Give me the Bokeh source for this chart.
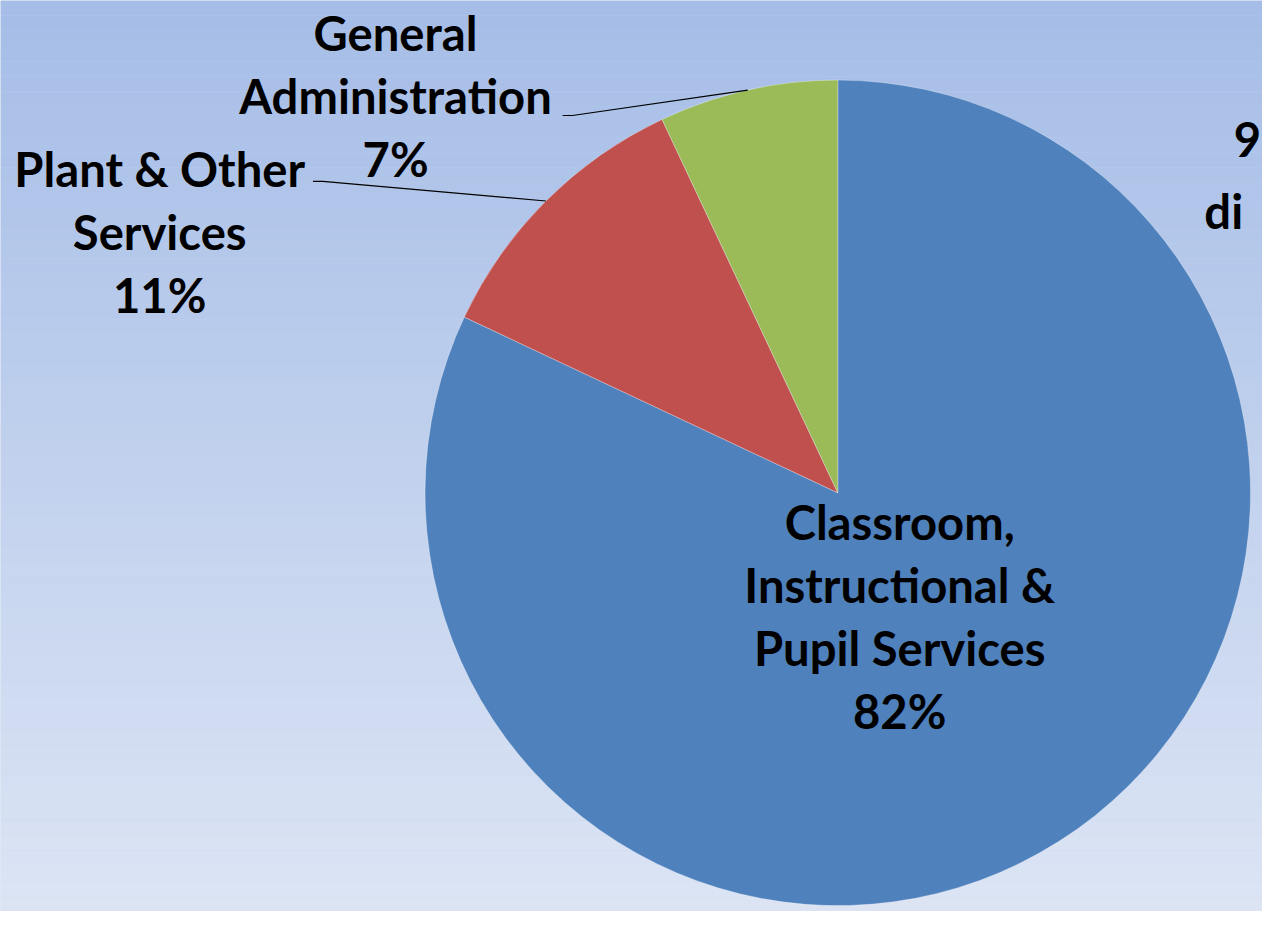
import numpy as np
from bokeh.plotting import figure
from bokeh.embed import file_html
from bokeh.resources import INLINE
from bokeh.core.properties import value

# ---- data ----
categories = ["Classroom, Instructional & Pupil Services", "Plant & Other Services", "General Administration"]
label_lines = [["Classroom,", "Instructional &", "Pupil Services"],
               ["Plant & Other", "Services"],
               ["General", "Administration"]]
shares = [82, 11, 7]
colors = ["#4F81BD", "#C0504D", "#9BBB59"]

# ---- layout (reference pixel space, y down) ----
W, H = 1278, 927
PW, PH = 1262, 911
s = PH / H
cx_px, cy_px, R = 852, 501, 420
label_pos = [(915, 530), (162, 171), (402, 33)]   # first-line centre
line_gap = 64
leader_start = [None, (318, 184), (572, 117)]
FONT = "Lato"
FS = f"{48 * s:.1f}px"

def Y(y):
    return H - y

p = figure(width=PW, height=PH, x_range=(0, PW / s), y_range=(0, H),
           output_backend="svg", toolbar_location=None, min_border=0)
p.axis.visible = False
p.grid.visible = False
p.outline_line_color = None
p.background_fill_color = "#C4D2EC"
p.border_fill_color = "#C4D2EC"

# gradient background
n = 60
edges = np.linspace(0, H, n + 1)
top = np.array([165, 189, 231])
bot = np.array([221, 229, 245])
cols = []
for i in range(n):
    t = (i + 0.5) / n
    c = (top * (1 - t) + bot * t).astype(int)
    cols.append("#%02x%02x%02x" % tuple(c))
p.quad(left=0, right=PW / s + 10, top=[Y(e) for e in edges[:-1]], bottom=[Y(e) for e in edges[1:]],
       fill_color=cols, line_color=None)

# wedges: start at 12 o'clock, clockwise
total = sum(shares)
cum = np.cumsum([0] + shares) / total
starts = [np.pi / 2 - 2 * np.pi * cum[i + 1] for i in range(len(shares))]
ends = [np.pi / 2 - 2 * np.pi * cum[i] for i in range(len(shares))]
p.wedge(x=cx_px, y=Y(cy_px), radius=R, start_angle=starts, end_angle=ends,
        fill_color=colors, line_color="white", line_width=0.6, line_alpha=0.5)

# labels
for i, (lines, (lx, ly)) in enumerate(zip(label_lines, label_pos)):
    all_lines = lines + [f"{shares[i]}%"]
    xs = [lx] * len(all_lines)
    ys = [Y(ly + k * line_gap) for k in range(len(all_lines))]
    p.text(x=xs, y=ys, text=all_lines, text_align="center", text_baseline="middle",
           text_font=value(FONT), text_font_size=FS, text_font_style="bold", text_color="black")

# leader lines (end at wedge mid-angle on the rim)
for i, st in enumerate(leader_start):
    if st is None:
        continue
    mid = (cum[i] + cum[i + 1]) / 2 * 2 * np.pi
    ex = cx_px + R * np.sin(mid)
    ey = cy_px - R * np.cos(mid)
    p.line(x=[st[0], st[0] + 10, ex], y=[Y(st[1]), Y(st[1]), Y(ey)], line_color="black", line_width=1.2)

# partly hidden text at right edge
p.text(x=[1255, 1225], y=[Y(141), Y(214)], text=["9", "di"], text_align="left", text_baseline="middle",
       text_font=value(FONT), text_font_size=FS, text_font_style="bold", text_color="black")

open("out.html", "w").write(file_html(p, INLINE))
